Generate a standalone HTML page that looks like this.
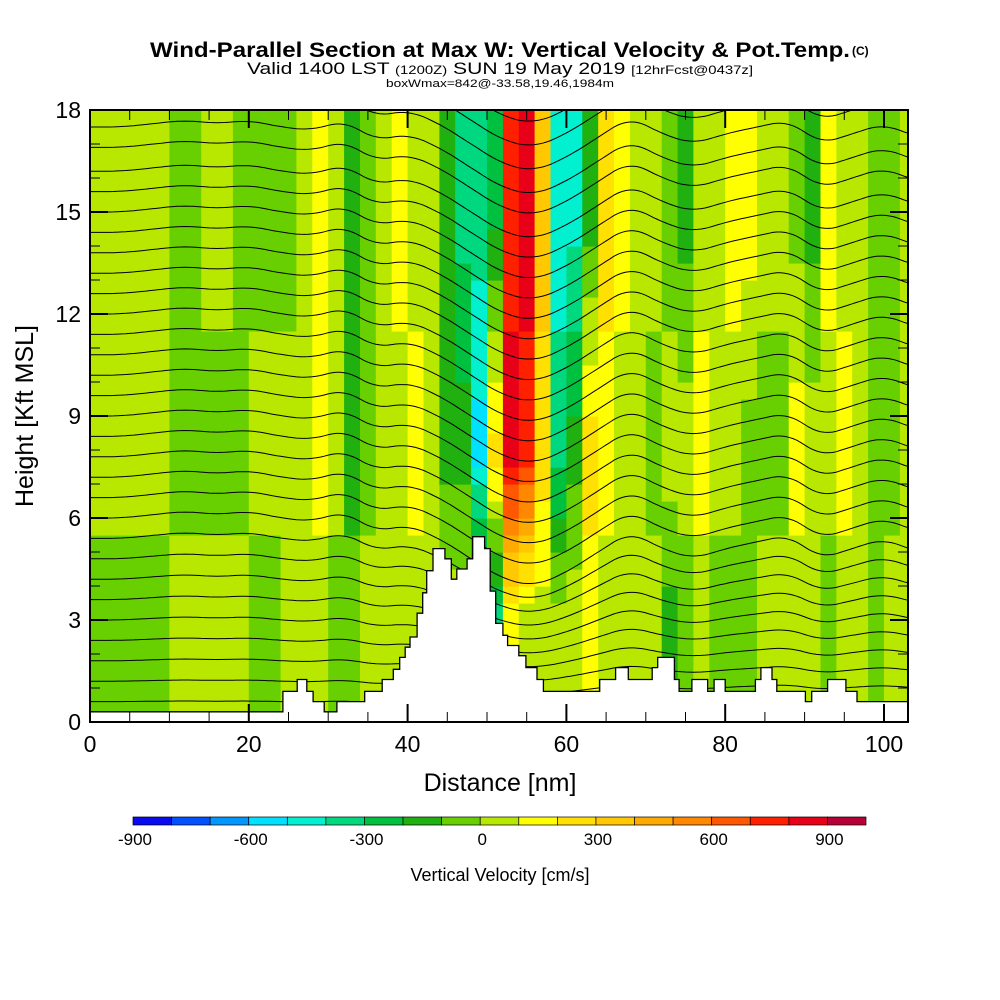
<!DOCTYPE html>
<html><head><meta charset="utf-8"><title>Wind-Parallel Section</title>
<style>
html,body{margin:0;padding:0;background:#fff;}
svg{display:block;font-family:"Liberation Sans Narrow","Liberation Sans",sans-serif;}
</style></head>
<body>
<svg id="chart" width="1000" height="1000" viewBox="0 0 1000 1000" xmlns="http://www.w3.org/2000/svg">
  <rect width="1000" height="1000" fill="#fff"/>
  <text x="500" y="57" text-anchor="middle" font-size="21" font-weight="bold" textLength="700" lengthAdjust="spacingAndGlyphs">Wind-Parallel Section at Max W: Vertical Velocity &amp; Pot.Temp.</text>
  <text x="852" y="55" font-size="12" font-weight="bold">(C)</text>
  <text x="500" y="74" text-anchor="middle" font-size="17" textLength="506" lengthAdjust="spacingAndGlyphs">Valid 1400 LST <tspan font-size="12">(1200Z)</tspan> SUN 19 May 2019 <tspan font-size="12">[12hrFcst@0437z]</tspan></text>
  <text x="500" y="87" text-anchor="middle" font-size="11" textLength="228" lengthAdjust="spacingAndGlyphs">boxWmax=842@-33.58,19.46,1984m</text>
  <defs><clipPath id="plotclip"><rect x="90" y="110" width="818" height="612"/></clipPath></defs>
  <g id="field" clip-path="url(#plotclip)"></g>
  <g id="contours" clip-path="url(#plotclip)" fill="none" stroke="#000" stroke-width="1"></g>
  <polygon id="terrain" fill="#fff" stroke="#000" stroke-width="1.3" clip-path="url(#plotclip)"/>
  <g id="axes"></g>
  <text x="500" y="791" text-anchor="middle" font-size="25" font-family="Liberation Sans, sans-serif">Distance [nm]</text>
  <text transform="translate(33,416) rotate(-90)" text-anchor="middle" font-size="25" font-family="Liberation Sans, sans-serif">Height [Kft MSL]</text>
  <g id="colorbar"></g>
  <text x="500" y="881" text-anchor="middle" font-size="18" font-family="Liberation Sans, sans-serif">Vertical Velocity [cm/s]</text>
</svg>
<script>
// ---- data ----
const levelHeights = [3, 8, 15]; // kft of sampled rows
const wLow = [-50,-50,-50,-50,-50,50,50,50,50,50,-50,-50,50,50,50,-50,-50,50,50,50,50,50,50,50,50,-350,150,50,50,50,50,150,50,50,50,50,-150,-50,50,-50,-50,-50,50,50,50,50,-50,50,50,-50,50,50];
const wMid = [50,50,50,50,50,-50,-50,-50,-50,-50,50,50,50,50,150,50,-150,-50,50,50,150,50,-150,-150,-550,250,850,750,250,-350,-150,250,150,50,50,-50,50,50,150,50,50,-50,-50,-50,150,50,50,150,50,-50,-50,50];
const wTop = [50,50,50,50,50,-50,-50,50,50,-50,-50,-50,-50,50,150,50,-150,-50,50,150,50,50,-150,-350,-350,-250,750,850,350,-450,-450,-150,250,150,50,50,-50,-150,50,50,150,150,50,50,-50,-150,150,50,50,-50,-50,50];
const colorLevels = [-900,-800,-700,-600,-500,-400,-300,-200,-100,0,100,200,300,400,500,600,700,800,900,1000];
const colorTicks = [-900,-600,-300,0,300,600,900];
const palette = ["#0a0af0","#0050ff","#0098ff","#00e0ff","#00f0d0","#00d880","#00c040","#20b010","#68d000","#b8e800","#ffff00","#ffe000","#ffc800","#ffaa00","#ff8800","#ff5800","#ff2000","#e80018","#b80038"];
const thetaBase = [0.6,1.2,1.8,2.4,3.0,3.6,4.2,4.8,5.4,6.0,6.6,7.2,7.8,8.4,9.0,9.6,10.2,10.8,11.4,12.0,12.6,13.2,13.8,14.4,15.0,15.6,16.2,16.9,17.5,18.2,18.9,19.6];
const dispNm = [0,4,8,12,16,20,24,28,32,36,40,44,48,52,56,60,64,68,72,76,80,84,88,92,96,100,104];
const dispKft = [0,0,0.1,0.2,0.1,0.2,0,-0.1,0.2,-0.4,-0.2,-0.6,-1.2,-1.8,-2.0,-1.6,-1.0,-0.4,-0.9,-1.2,-0.9,-0.7,-0.5,-1.2,-0.9,-0.6,-1.0];
const terrainNm = [0,24.3,26.1,27.3,28.1,29.5,31.1,34.6,36.8,38.2,39.0,39.7,40.3,41.2,41.9,42.4,43.2,44.7,45.5,46.2,47.5,48.2,49.7,50.4,51.1,52.0,52.6,54.0,54.9,56.3,57.1,64.2,66.2,67.8,70.8,71.5,73.6,74.2,75.8,77.8,78.6,80.0,83.8,84.5,85.9,86.5,90.1,90.9,92.9,95.2,96.6];
const terrainKft = [0.3,0.9,1.25,0.9,0.6,0.3,0.6,0.9,1.25,1.55,1.9,2.2,2.5,3.2,3.8,4.45,5.1,4.8,4.2,4.5,4.8,5.45,5.1,3.85,2.9,2.55,2.25,1.95,1.6,1.25,0.9,1.25,1.6,1.25,1.6,1.9,1.25,0.9,1.25,0.9,1.25,0.9,1.25,1.6,1.25,0.9,0.6,0.9,1.25,0.9,0.6];
const xTicks = [0,20,40,60,80,100];
const yTicks = [0,3,6,9,12,15,18];

// ---- scales ----
const X0=90, X1=908, Y0=722, Y1=110, XMAX=103, YMAX=18;
const xs = nm => X0 + nm*(884-90)/100;
const ys = k => Y0 - k*(Y0-Y1)/YMAX;
const NS="http://www.w3.org/2000/svg";
function mk(tag, attrs, parent){const e=document.createElementNS(NS,tag);for(const k in attrs)e.setAttribute(k,attrs[k]);parent.appendChild(e);return e;}
function colorFor(v){for(let i=0;i<palette.length;i++){if(v<colorLevels[i+1])return palette[i];}return palette[palette.length-1];}
function rowVal(c,k){
  const a=wLow[c],b=wMid[c],t=wTop[c];
  if(k<=levelHeights[0])return a;
  if(k<=levelHeights[1])return a+(b-a)*(k-levelHeights[0])/(levelHeights[1]-levelHeights[0]);
  if(k<=levelHeights[2])return b+(t-b)*(k-levelHeights[1])/(levelHeights[2]-levelHeights[1]);
  return t;
}
// field
const field=document.getElementById('field');
for(let c=0;c<wLow.length;c++){
  for(let k=0;k<18;k+=0.5){
    const v=rowVal(c,k+0.25);
    const r=mk('rect',{x:xs(2*c).toFixed(1),y:ys(k+0.5).toFixed(1),width:(xs(2)-xs(0)+0.6).toFixed(1),height:(ys(0)-ys(0.5)+0.6).toFixed(1),fill:colorFor(v)},field);
    
    
  }
}
// contours (linear displacement, smoothed with moving average)
function dispLin(nm){nm=Math.max(0,Math.min(104,nm));for(let i=0;i<dispNm.length-1;i++){if(nm<=dispNm[i+1]){const f=(nm-dispNm[i])/(dispNm[i+1]-dispNm[i]);return dispKft[i]+f*(dispKft[i+1]-dispKft[i]);}}return dispKft[dispKft.length-1];}
function disp(nm){let s=0,n=0;for(let d=-2;d<=2;d+=0.5){s+=dispLin(nm+d);n++;}return s/n;}
const cg=document.getElementById('contours');
thetaBase.forEach(b=>{
  const f=Math.min(1,b/6);
  let pts=[];
  for(let nm=0;nm<=XMAX;nm+=0.5){pts.push(xs(nm).toFixed(1)+','+ys(b+disp(nm)*f).toFixed(1));}
  const p=mk('polyline',{points:pts.join(' ')},cg);
  
  
});
// terrain
let tp=[xs(0)+','+ys(0)];
for(let i=0;i<terrainNm.length;i++){
  const xa=xs(terrainNm[i]), xb=i+1<terrainNm.length?xs(terrainNm[i+1]):X1+2;
  tp.push(xa.toFixed(1)+','+ys(terrainKft[i]).toFixed(1));
  tp.push(xb.toFixed(1)+','+ys(terrainKft[i]).toFixed(1));
}
tp.push((X1+2)+','+ys(0));
document.getElementById('terrain').setAttribute('points',tp.join(' '));
// axes
const ax=document.getElementById('axes');
const frame=mk('rect',{x:X0,y:Y1,width:X1-X0,height:Y0-Y1,fill:'none',stroke:'#000','stroke-width':2},ax);


for(let nm=0;nm<=XMAX;nm+=5){
  const len=nm%20===0?18:10;
  mk('line',{x1:xs(nm),x2:xs(nm),y1:Y0,y2:Y0-len,stroke:'#000','stroke-width':nm%20===0?2:1},ax);
  mk('line',{x1:xs(nm),x2:xs(nm),y1:Y1,y2:Y1+len,stroke:'#000','stroke-width':nm%20===0?2:1},ax);
}
for(let k=0;k<=18;k+=1){
  const len=k%3===0?18:10;
  mk('line',{x1:X0,x2:X0+len,y1:ys(k),y2:ys(k),stroke:'#000','stroke-width':k%3===0?2:1},ax);
  mk('line',{x1:X1,x2:X1-len,y1:ys(k),y2:ys(k),stroke:'#000','stroke-width':k%3===0?2:1},ax);
}
xTicks.forEach(t=>{
  const e=mk('text',{x:xs(t),y:752,'text-anchor':'middle','font-size':23,'font-family':'Liberation Sans, sans-serif'},ax);
  e.textContent=t;
  
  
});
yTicks.forEach(t=>{
  const e=mk('text',{x:81,y:ys(t)+8,'text-anchor':'end','font-size':23,'font-family':'Liberation Sans, sans-serif'},ax);
  e.textContent=t;
  
  
});
// colorbar
const cb=document.getElementById('colorbar');
const CB0=133, CB1=866, cw=(CB1-CB0)/palette.length;
palette.forEach((col,i)=>{
  const r=mk('rect',{x:CB0+i*cw,y:817,width:cw,height:8,fill:col,stroke:'#000','stroke-width':0.7},cb);
  
  
});
colorTicks.forEach(t=>{
  const i=colorLevels.indexOf(t);
  const e=mk('text',{x:CB0+i*cw+2,y:845,'text-anchor':'middle','font-size':17,'font-family':'Liberation Sans, sans-serif'},cb);
  e.textContent=t;
  
  
});
</script>
</body></html>
